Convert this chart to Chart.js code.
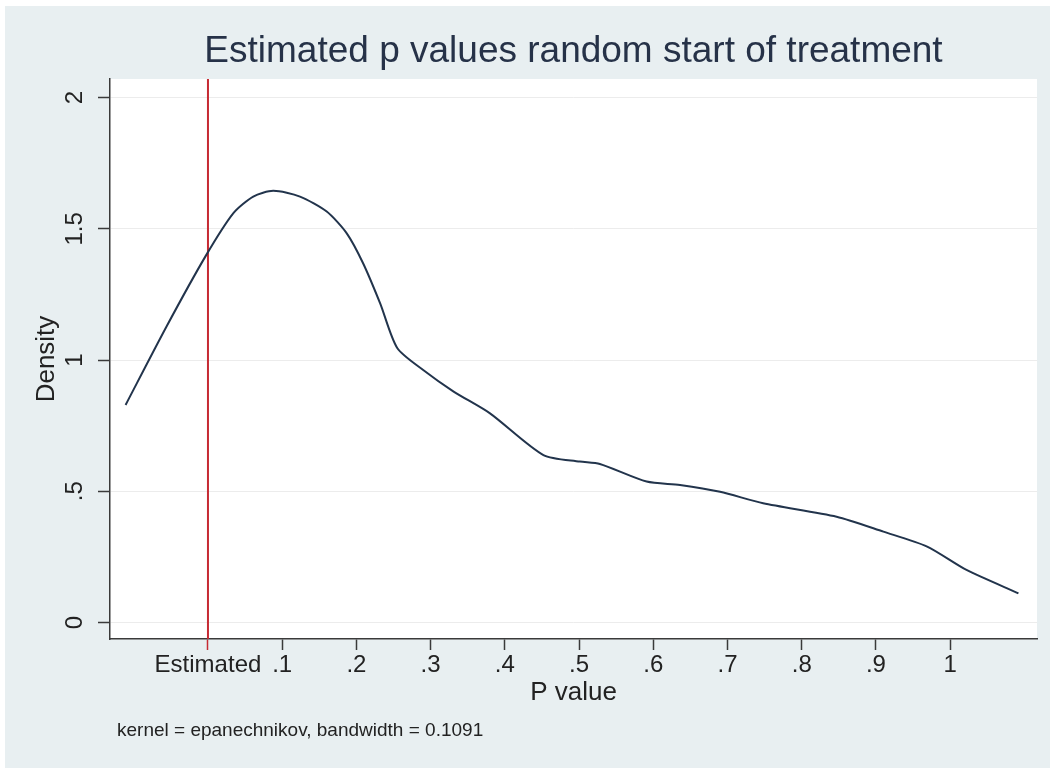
<!DOCTYPE html>
<html>
<head>
<meta charset="utf-8">
<title>Estimated p values random start of treatment</title>
<script src="https://cdn.jsdelivr.net/npm/chart.js@4.4.1/dist/chart.umd.min.js"></script>
<style>
  html, body { margin: 0; padding: 0; background: #fff; }
  #wrap { width: 1052px; height: 770px; }
</style>
</head>
<body>
<div id="wrap"><canvas id="chart" width="1052" height="770"></canvas></div>
<script>
// kernel density curve
const pValues = [-0.111, -0.056, -0.003, 0.034, 0.061, 0.088, 0.124, 0.160, 0.187, 0.209, 0.232, 0.255,
                 0.290, 0.331, 0.380, 0.452, 0.501, 0.528, 0.591, 0.636, 0.690, 0.748, 0.847, 0.910,
                 0.969, 1.022, 1.092];
const densities = [0.829, 1.127, 1.397, 1.559, 1.623, 1.645, 1.623, 1.566, 1.483, 1.369, 1.216, 1.046,
                   0.962, 0.880, 0.797, 0.638, 0.613, 0.604, 0.537, 0.524, 0.498, 0.454, 0.403, 0.346,
                   0.289, 0.200, 0.111];

const estimatedP = 0;

const xTickValues = [0.1, 0.2, 0.3, 0.4, 0.5, 0.6, 0.7, 0.8, 0.9, 1];
const xTickLabels = ['.1', '.2', '.3', '.4', '.5', '.6', '.7', '.8', '.9', '1'];
const yTickValues = [0, 0.5, 1, 1.5, 2];
const yTickLabels = ['0', '.5', '1', '1.5', '2'];

const xRange = [-0.132, 1.117];
const yRange = [-0.063, 2.071];

const titleText = 'Estimated p values random start of treatment';
const xTitle = 'P value';
const yTitle = 'Density';
const noteText = 'kernel = epanechnikov, bandwidth = 0.1091';

const FONT = "'Liberation Sans', Arial, Helvetica, sans-serif";
const BG = '#e8eff1';
const AXIS = '#3a3a3a';
const RED = '#c62a33';

const backdrop = {
    id: 'backdrop',
    beforeDraw(chart) {
        const {ctx, chartArea: a} = chart;
        ctx.save();
        ctx.fillStyle = '#ffffff';
        ctx.fillRect(0, 0, chart.width, chart.height);
        ctx.fillStyle = BG;
        ctx.fillRect(5, 6, chart.width - 7, chart.height - 8);
        ctx.fillStyle = '#ffffff';
        ctx.fillRect(a.left, a.top, a.right - a.left, a.bottom - a.top);
        ctx.restore();
    }
};

const footnote = {
    id: 'footnote',
    afterDraw(chart) {
        const ctx = chart.ctx;
        ctx.save();
        ctx.font = '19px ' + FONT;
        ctx.fillStyle = '#222';
        ctx.textBaseline = 'middle';
        ctx.textAlign = 'left';
        ctx.fillText(noteText, 117, 731);
        ctx.restore();
    }
};

new Chart(document.getElementById('chart'), {
    type: 'scatter',
    data: {
        datasets: [{
            data: pValues.map((p, i) => ({x: p, y: densities[i]})),
            showLine: true,
            borderColor: '#22344c',
            borderWidth: 2,
            pointRadius: 0,
            tension: 0.25
        }, {
            data: [{x: estimatedP, y: yRange[0]}, {x: estimatedP, y: yRange[1]}],
            showLine: true,
            borderColor: RED,
            borderWidth: 2,
            pointRadius: 0
        }]
    },
    options: {
        responsive: false,
        animation: false,
        devicePixelRatio: 1,
        layout: { padding: { left: 0, right: 15, top: 0, bottom: 0 } },
        plugins: {
            legend: { display: false },
            tooltip: { enabled: false },
            title: {
                display: true,
                fullSize: false,
                text: titleText,
                color: '#263248',
                font: { family: FONT, size: 37, weight: 'normal' },
                padding: { top: 30, bottom: 4.6 }
            }
        },
        scales: {
            x: {
                type: 'linear',
                min: xRange[0],
                max: xRange[1],
                afterFit: s => { s.height = 131; },
                afterBuildTicks: s => {
                    s.ticks = [estimatedP].concat(xTickValues).map(v => ({value: v}));
                },
                ticks: {
                    autoSkip: false,
                    minRotation: 0,
                    maxRotation: 0,
                    padding: 1,
                    color: '#222',
                    font: { family: FONT, size: 24 },
                    callback: (v, i) => i === 0 ? 'Estimated' : xTickLabels[i - 1]
                },
                grid: {
                    display: true,
                    drawOnChartArea: false,
                    tickLength: 11,
                    tickWidth: 1.5,
                    tickColor: c => (c.tick && c.tick.value === estimatedP) ? RED : AXIS
                },
                border: { display: true, color: AXIS, width: 1.5 },
                title: {
                    display: true,
                    text: xTitle,
                    color: '#222',
                    font: { family: FONT, size: 26 },
                    padding: { top: 0, bottom: 62 }
                }
            },
            y: {
                type: 'linear',
                min: yRange[0],
                max: yRange[1],
                afterFit: s => { s.width = 110; },
                afterBuildTicks: s => {
                    s.ticks = yTickValues.map(v => ({value: v}));
                },
                ticks: {
                    autoSkip: false,
                    minRotation: 90,
                    maxRotation: 90,
                    crossAlign: 'center',
                    padding: 6,
                    color: '#222',
                    font: { family: FONT, size: 24 },
                    callback: (v, i) => yTickLabels[i]
                },
                grid: {
                    display: true,
                    drawOnChartArea: true,
                    color: '#ececec',
                    lineWidth: 1,
                    tickLength: 12,
                    tickWidth: 1.5,
                    tickColor: AXIS
                },
                border: { display: true, color: AXIS, width: 1.5 },
                title: {
                    display: true,
                    text: yTitle,
                    color: '#222',
                    font: { family: FONT, size: 26 },
                    padding: { top: 31, bottom: 0 }
                }
            }
        }
    },
    plugins: [backdrop, footnote]
});
</script>
</body>
</html>
